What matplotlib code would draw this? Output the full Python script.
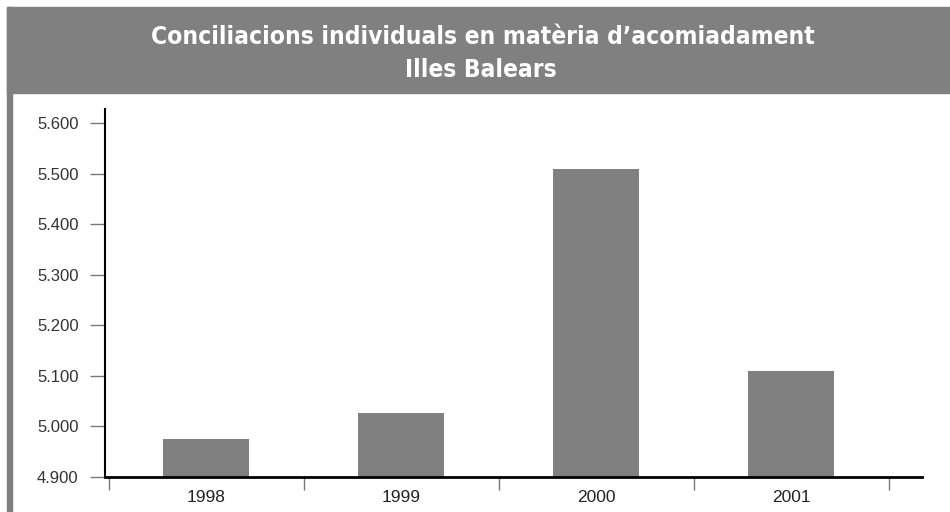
import matplotlib.pyplot as plt
from matplotlib.patches import Rectangle
from matplotlib.ticker import FixedLocator, FuncFormatter
from matplotlib import font_manager

years = ["1998", "1999", "2000", "2001"]
values = [4975, 5026, 5510, 5110]
yticks = [4900, 5000, 5100, 5200, 5300, 5400, 5500, 5600]
title1 = "Conciliacions individuals en matèria d\u2019acomiadament"
title2 = "Illes Balears"

gray = "#808080"

# look for a narrow/condensed bold face for the header
narrow = None
for f in font_manager.fontManager.ttflist:
    name = f.name + " " + str(f.stretch)
    if ("Narrow" in name or "Condensed" in name or "condensed" in name) and f.weight in ("bold", 700, "heavy"):
        narrow = f.fname
        break
if narrow:
    title_prop = font_manager.FontProperties(fname=narrow)
else:
    title_prop = font_manager.FontProperties(family="DejaVu Sans", weight="bold")

fig = plt.figure(figsize=(9.5, 5.12), dpi=100)

# header band and left border
fig.patches.append(Rectangle((7 / 950, 0), 5 / 950, 505 / 512,
                             transform=fig.transFigure, color=gray, zorder=0))
fig.patches.append(Rectangle((7 / 950, (512 - 93) / 512), 943 / 950, 86 / 512,
                             transform=fig.transFigure, color=gray, zorder=0))

t1 = fig.text(483 / 950, (512 - 37) / 512, title1, ha="center", va="center",
              color="white", fontproperties=title_prop, fontsize=24)
t2 = fig.text(481 / 950, (512 - 70) / 512, title2, ha="center", va="center",
              color="white", fontproperties=title_prop, fontsize=24)

# fit first line to the width it takes in the reference (~654 px)
r = fig.canvas.get_renderer()
w = t1.get_window_extent(r).width
size = min(24, 24 * 660 / w)
t1.set_fontsize(size)
t2.set_fontsize(size)

ax = fig.add_axes([105 / 950, 35 / 512, 817 / 950, 368 / 512])
x = list(range(len(years)))
ax.bar(x, [v - 4900 for v in values], bottom=4900, width=0.44, color=gray,
       zorder=2)

ax.set_xlim(-0.52, 3.67)
ax.set_ylim(4900, 5627.7)

ax.spines["top"].set_visible(False)
ax.spines["right"].set_visible(False)
ax.spines["left"].set_linewidth(1.5)
ax.spines["bottom"].set_linewidth(2)
ax.spines["bottom"].set_zorder(3)

ax.set_yticks(yticks)
ax.yaxis.set_major_formatter(FuncFormatter(lambda v, p: f"{v/1000:.3f}"))
ax.tick_params(axis="y", direction="out", length=11, width=1, color="#777777",
               labelsize=12, labelcolor="#333333", pad=8)

ax.set_xticks(x)
ax.set_xticklabels(years)
ax.xaxis.set_minor_locator(FixedLocator([i - 0.5 for i in range(len(years) + 1)]))
ax.tick_params(axis="x", which="major", length=0, labelsize=12.5,
               labelcolor="#222222", pad=9)
ax.tick_params(axis="x", which="minor", direction="out", length=9, width=1,
               color="#777777")

for lab in ax.get_xticklabels() + ax.get_yticklabels():
    lab.set_family(["Liberation Sans", "DejaVu Sans"])

fig.savefig("out.png", dpi=100)
